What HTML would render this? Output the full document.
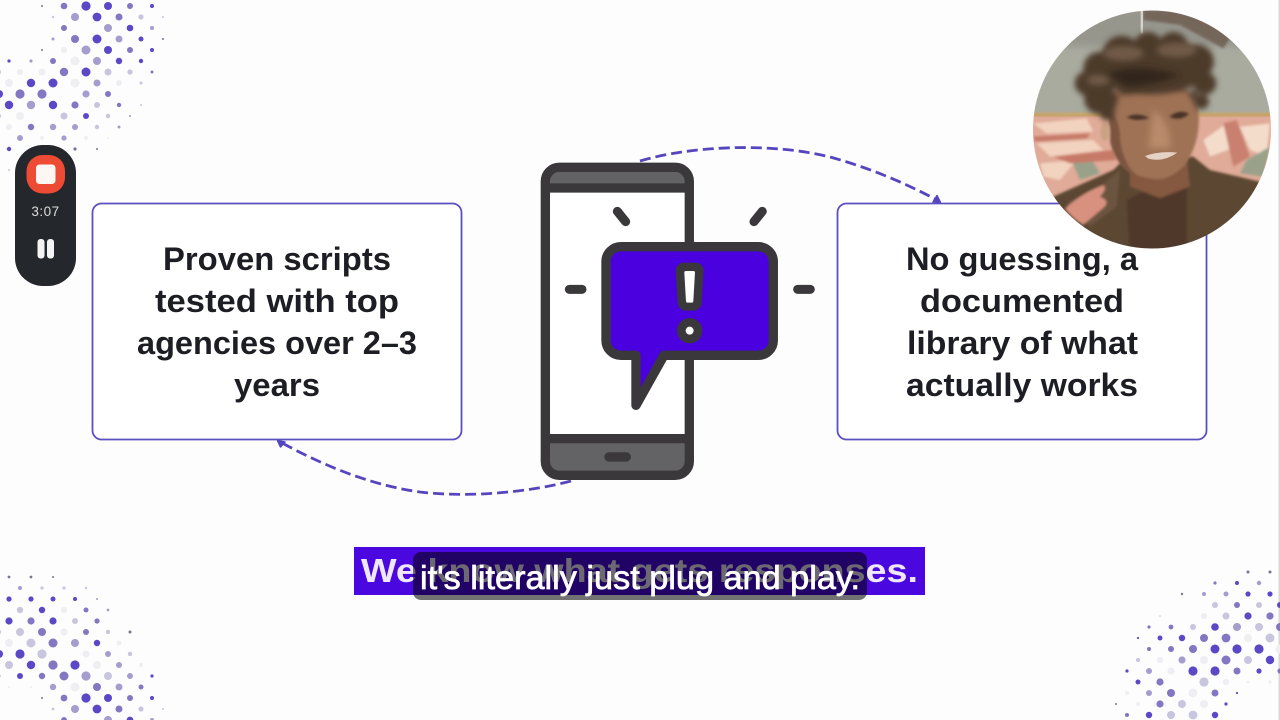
<!DOCTYPE html>
<html><head><meta charset="utf-8"><style>
html,body{margin:0;padding:0;background:#fdfdfd;width:1280px;height:720px;overflow:hidden}
svg{display:block}
.d{fill:#5a48c6}.m{fill:#8376c2}.l{fill:#a49dce}.p{fill:#c8c5de}.f{fill:#eeeef3}.g{fill:#77768f}
.t{font-family:"Liberation Sans",sans-serif;font-weight:700;font-size:32px;fill:#1d1d24;text-anchor:start}
</style></head><body>
<svg width="1280" height="720" viewBox="0 0 1280 720" xmlns="http://www.w3.org/2000/svg">
<defs>
<clipPath id="cp"><circle cx="1152" cy="129.5" r="119"/></clipPath>
<filter id="b1" x="-30%" y="-30%" width="160%" height="160%"><feGaussianBlur stdDeviation="10"/></filter>
<filter id="b2" x="-20%" y="-20%" width="140%" height="140%"><feGaussianBlur stdDeviation="4"/></filter>
<filter id="b4" x="-20%" y="-20%" width="140%" height="140%"><feGaussianBlur stdDeviation="9"/></filter>
<filter id="b0" x="-5%" y="-5%" width="110%" height="110%"><feGaussianBlur stdDeviation="1"/></filter>
<filter id="b3" x="-5%" y="-5%" width="110%" height="110%"><feGaussianBlur stdDeviation="0.35"/></filter>
</defs>
<rect width="1280" height="720" fill="#fdfdfd"/>
<rect x="1278.5" width="1.5" height="720" fill="#d8d8d8"/>

<!-- top-left dots -->
<g>
<circle cx="42" cy="6" r="1" class="g"/><circle cx="64" cy="6" r="3.3" class="m"/><circle cx="86" cy="6" r="4.6" class="d"/><circle cx="108" cy="6" r="4" class="d"/><circle cx="130" cy="6" r="3" class="m"/><circle cx="152" cy="6" r="2" class="d"/>
<circle cx="53" cy="17" r="1.2" class="p"/><circle cx="75" cy="17" r="4" class="l"/><circle cx="97" cy="17" r="4.4" class="d"/><circle cx="119" cy="17" r="3.5" class="m"/><circle cx="141" cy="17" r="2.6" class="p"/><circle cx="163" cy="17" r="1" class="p"/>
<circle cx="64" cy="28" r="3" class="m"/><circle cx="108" cy="28" r="4" class="l"/><circle cx="130" cy="28" r="3.3" class="d"/><circle cx="152" cy="28" r="2" class="l"/>
<circle cx="53" cy="39" r="1.5" class="l"/><circle cx="75" cy="39" r="4" class="m"/><circle cx="97" cy="39" r="4.5" class="d"/><circle cx="119" cy="39" r="3.5" class="l"/><circle cx="141" cy="39" r="2.5" class="d"/><circle cx="163" cy="39" r="1" class="g"/>
<circle cx="42" cy="50" r="1" class="g"/><circle cx="64" cy="50" r="3" class="f"/><circle cx="86" cy="50" r="4.5" class="l"/><circle cx="108" cy="50" r="4" class="d"/><circle cx="130" cy="50" r="3" class="m"/><circle cx="152" cy="50" r="2" class="d"/>
<circle cx="9" cy="61" r="1.6" class="d"/><circle cx="31" cy="61" r="1.6" class="l"/><circle cx="53" cy="61" r="3" class="m"/><circle cx="75" cy="61" r="4.5" class="f"/><circle cx="97" cy="61" r="4" class="l"/><circle cx="119" cy="61" r="3.2" class="d"/><circle cx="141" cy="61" r="2.2" class="d"/>
<circle cx="-2" cy="72" r="3" class="p"/><circle cx="20" cy="72" r="3" class="f"/><circle cx="42" cy="72" r="3.5" class="f"/><circle cx="64" cy="72" r="4.2" class="m"/><circle cx="86" cy="72" r="4.5" class="d"/><circle cx="108" cy="72" r="3.5" class="p"/><circle cx="130" cy="72" r="2.6" class="p"/><circle cx="152" cy="72" r="1.5" class="m"/>
<circle cx="9" cy="83" r="4" class="f"/><circle cx="31" cy="83" r="4.2" class="d"/><circle cx="53" cy="83" r="4.5" class="d"/><circle cx="75" cy="83" r="4.5" class="f"/><circle cx="97" cy="83" r="3.5" class="l"/><circle cx="119" cy="83" r="3" class="f"/><circle cx="141" cy="83" r="1.5" class="p"/>
<circle cx="-1" cy="94" r="4" class="d"/><circle cx="20" cy="94" r="4.6" class="m"/><circle cx="42" cy="94" r="4.6" class="m"/><circle cx="86" cy="94" r="3.6" class="l"/><circle cx="108" cy="94" r="3" class="m"/>
<circle cx="9" cy="105" r="4.2" class="d"/><circle cx="31" cy="105" r="4.2" class="l"/><circle cx="53" cy="105" r="4.2" class="d"/><circle cx="75" cy="105" r="3.6" class="m"/><circle cx="97" cy="105" r="3" class="p"/><circle cx="119" cy="105" r="2.2" class="m"/><circle cx="141" cy="105" r="1" class="p"/>
<circle cx="-2" cy="116" r="3" class="p"/><circle cx="20" cy="116" r="4" class="f"/><circle cx="64" cy="116" r="3.5" class="p"/><circle cx="86" cy="116" r="3" class="d"/><circle cx="108" cy="116" r="2.2" class="p"/><circle cx="130" cy="116" r="1" class="l"/>
<circle cx="9" cy="127" r="3" class="f"/><circle cx="31" cy="127" r="3.2" class="m"/><circle cx="53" cy="127" r="3.2" class="l"/><circle cx="75" cy="127" r="3" class="l"/><circle cx="97" cy="127" r="2.2" class="p"/><circle cx="119" cy="127" r="1.5" class="l"/>
<circle cx="20" cy="138" r="3" class="l"/><circle cx="42" cy="138" r="2" class="f"/><circle cx="64" cy="138" r="2.6" class="l"/><circle cx="86" cy="138" r="2" class="f"/><circle cx="108" cy="138" r="1" class="f"/>
<circle cx="9" cy="149" r="2.2" class="d"/><circle cx="75" cy="149" r="1.6" class="g"/><circle cx="97" cy="149" r="1" class="g"/><circle cx="9" cy="170" r="1" class="p"/>
</g>

<!-- bottom-left dots -->
<g>
<circle cx="9" cy="577" r="1.4" class="g"/><circle cx="31" cy="577" r="1.4" class="g"/><circle cx="53" cy="577" r="1" class="g"/>
<circle cx="20" cy="588" r="2" class="l"/><circle cx="42" cy="588" r="1.6" class="p"/><circle cx="64" cy="588" r="1.6" class="p"/><circle cx="86" cy="588" r="1.2" class="p"/>
<circle cx="9" cy="599" r="2.6" class="d"/><circle cx="31" cy="599" r="2.6" class="d"/><circle cx="53" cy="599" r="2.5" class="d"/><circle cx="75" cy="599" r="2" class="d"/><circle cx="97" cy="599" r="1" class="l"/>
<circle cx="-2" cy="610" r="2" class="p"/><circle cx="20" cy="610" r="3.2" class="p"/><circle cx="42" cy="610" r="3.2" class="d"/><circle cx="64" cy="610" r="3" class="f"/><circle cx="86" cy="610" r="2.5" class="m"/><circle cx="108" cy="610" r="1.4" class="l"/>
<circle cx="9" cy="621" r="3.6" class="d"/><circle cx="31" cy="621" r="3.6" class="m"/><circle cx="53" cy="621" r="3.6" class="d"/><circle cx="75" cy="621" r="3" class="p"/><circle cx="97" cy="621" r="2.6" class="m"/>
<circle cx="-2" cy="632" r="3" class="p"/><circle cx="20" cy="632" r="4" class="p"/><circle cx="42" cy="632" r="4" class="m"/><circle cx="64" cy="632" r="3.5" class="f"/><circle cx="86" cy="632" r="3" class="m"/><circle cx="108" cy="632" r="2.2" class="p"/><circle cx="130" cy="632" r="1.5" class="g"/>
<circle cx="9" cy="643" r="4" class="f"/><circle cx="31" cy="643" r="4.5" class="p"/><circle cx="53" cy="643" r="4.5" class="m"/><circle cx="75" cy="643" r="4" class="l"/><circle cx="97" cy="643" r="3.2" class="d"/><circle cx="119" cy="643" r="2.4" class="f"/>
<circle cx="-1" cy="654" r="4" class="d"/><circle cx="20" cy="654" r="4.6" class="d"/><circle cx="42" cy="654" r="4.6" class="p"/><circle cx="86" cy="654" r="3.6" class="f"/><circle cx="108" cy="654" r="3" class="l"/><circle cx="130" cy="654" r="2.2" class="p"/>
<circle cx="9" cy="665" r="4" class="p"/><circle cx="31" cy="665" r="4.2" class="d"/><circle cx="53" cy="665" r="4.6" class="m"/><circle cx="75" cy="665" r="4.6" class="d"/><circle cx="97" cy="665" r="4" class="f"/><circle cx="119" cy="665" r="3" class="l"/><circle cx="141" cy="665" r="2" class="f"/>
<circle cx="-2" cy="676" r="2.4" class="m"/><circle cx="20" cy="676" r="3" class="d"/><circle cx="42" cy="676" r="3.2" class="m"/><circle cx="64" cy="676" r="4.5" class="m"/><circle cx="86" cy="676" r="4.6" class="l"/><circle cx="108" cy="676" r="4" class="p"/><circle cx="130" cy="676" r="3" class="l"/><circle cx="152" cy="676" r="1.6" class="d"/>
<circle cx="9" cy="687" r="1.2" class="f"/><circle cx="31" cy="687" r="1" class="f"/><circle cx="53" cy="687" r="3.2" class="l"/><circle cx="75" cy="687" r="4.5" class="f"/><circle cx="97" cy="687" r="4" class="m"/><circle cx="119" cy="687" r="3.5" class="l"/><circle cx="141" cy="687" r="2.5" class="m"/>
<circle cx="42" cy="698" r="1" class="g"/><circle cx="64" cy="698" r="3.4" class="m"/><circle cx="86" cy="698" r="4.6" class="d"/><circle cx="108" cy="698" r="4" class="d"/><circle cx="130" cy="698" r="3" class="m"/><circle cx="152" cy="698" r="2" class="d"/>
<circle cx="53" cy="709" r="1.4" class="p"/><circle cx="75" cy="709" r="4" class="l"/><circle cx="97" cy="709" r="4.4" class="d"/><circle cx="119" cy="709" r="3.5" class="m"/><circle cx="141" cy="709" r="2.6" class="p"/><circle cx="163" cy="709" r="1" class="p"/>
<circle cx="64" cy="720" r="3" class="m"/><circle cx="108" cy="720" r="4" class="l"/><circle cx="130" cy="720" r="3.4" class="d"/><circle cx="152" cy="720" r="2" class="l"/>
</g>

<!-- bottom-right dots -->
<g>
<circle cx="1248" cy="572" r="1.5" class="g"/><circle cx="1270" cy="572" r="1.5" class="g"/>
<circle cx="1215" cy="583" r="1.6" class="m"/><circle cx="1237" cy="583" r="2" class="d"/><circle cx="1259" cy="583" r="2.2" class="l"/>
<circle cx="1182" cy="594" r="1.2" class="g"/><circle cx="1204" cy="594" r="2" class="l"/><circle cx="1226" cy="594" r="2.5" class="l"/><circle cx="1248" cy="594" r="2.6" class="d"/><circle cx="1270" cy="594" r="2.6" class="d"/>
<circle cx="1215" cy="605" r="3" class="p"/><circle cx="1237" cy="605" r="3" class="m"/><circle cx="1259" cy="605" r="3" class="p"/><circle cx="1280" cy="605" r="3" class="d"/>
<circle cx="1160" cy="616" r="0.8" class="p"/><circle cx="1204" cy="616" r="3" class="f"/><circle cx="1226" cy="616" r="3.5" class="p"/><circle cx="1248" cy="616" r="3.6" class="d"/><circle cx="1270" cy="616" r="3.6" class="m"/>
<circle cx="1149" cy="627" r="1.6" class="m"/><circle cx="1171" cy="627" r="2.4" class="m"/><circle cx="1193" cy="627" r="3" class="p"/><circle cx="1215" cy="627" r="3.8" class="d"/><circle cx="1237" cy="627" r="4" class="l"/><circle cx="1259" cy="627" r="4" class="p"/><circle cx="1280" cy="627" r="4" class="m"/>
<circle cx="1138" cy="638" r="1.1" class="d"/><circle cx="1160" cy="638" r="2.5" class="d"/><circle cx="1182" cy="638" r="3.2" class="d"/><circle cx="1204" cy="638" r="4" class="m"/><circle cx="1226" cy="638" r="4.4" class="m"/><circle cx="1248" cy="638" r="4" class="f"/><circle cx="1270" cy="638" r="4.5" class="p"/>
<circle cx="1149" cy="649" r="2" class="m"/><circle cx="1171" cy="649" r="3" class="m"/><circle cx="1193" cy="649" r="4" class="m"/><circle cx="1215" cy="649" r="4.5" class="d"/><circle cx="1237" cy="649" r="4.6" class="d"/><circle cx="1259" cy="649" r="4.6" class="d"/><circle cx="1280" cy="649" r="4.5" class="f"/>
<circle cx="1138" cy="660" r="2" class="p"/><circle cx="1160" cy="660" r="3" class="f"/><circle cx="1182" cy="660" r="3.6" class="l"/><circle cx="1204" cy="660" r="4" class="f"/><circle cx="1226" cy="660" r="4.5" class="m"/><circle cx="1248" cy="660" r="4" class="p"/><circle cx="1270" cy="660" r="4.2" class="d"/>
<circle cx="1127" cy="671" r="1.6" class="d"/><circle cx="1149" cy="671" r="3" class="l"/><circle cx="1171" cy="671" r="3.5" class="f"/><circle cx="1193" cy="671" r="4.6" class="d"/><circle cx="1215" cy="671" r="4.6" class="d"/><circle cx="1237" cy="671" r="3.5" class="m"/><circle cx="1259" cy="671" r="2.6" class="d"/><circle cx="1280" cy="671" r="2.6" class="m"/>
<circle cx="1138" cy="682" r="2.5" class="d"/><circle cx="1160" cy="682" r="3.6" class="m"/><circle cx="1204" cy="682" r="4.6" class="p"/><circle cx="1226" cy="682" r="3.2" class="f"/><circle cx="1248" cy="682" r="1.2" class="f"/><circle cx="1270" cy="682" r="1.6" class="f"/>
<circle cx="1127" cy="693" r="2" class="f"/><circle cx="1149" cy="693" r="3" class="l"/><circle cx="1171" cy="693" r="4" class="m"/><circle cx="1193" cy="693" r="4.5" class="f"/><circle cx="1215" cy="693" r="3.5" class="m"/><circle cx="1237" cy="693" r="1.1" class="d"/>
<circle cx="1116" cy="704" r="1" class="g"/><circle cx="1138" cy="704" r="2" class="f"/><circle cx="1160" cy="704" r="3.6" class="m"/><circle cx="1182" cy="704" r="4" class="p"/><circle cx="1204" cy="704" r="4" class="f"/><circle cx="1226" cy="704" r="1.6" class="d"/>
<circle cx="1127" cy="715" r="2" class="m"/><circle cx="1149" cy="715" r="3.2" class="d"/><circle cx="1171" cy="715" r="4" class="p"/><circle cx="1193" cy="715" r="4.4" class="p"/><circle cx="1215" cy="715" r="3.2" class="d"/>
</g>

<!-- boxes -->
<rect x="92.5" y="203.5" width="369" height="236" rx="9" fill="#fff" stroke="#5b50c2" stroke-width="1.8"/>
<rect x="837.5" y="203.5" width="369" height="236" rx="9" fill="#fff" stroke="#5b50c2" stroke-width="1.8"/>

<text class="t" x="163" y="270" textLength="228" lengthAdjust="spacingAndGlyphs">Proven scripts</text>
<text class="t" x="155" y="312" textLength="244" lengthAdjust="spacingAndGlyphs">tested with top</text>
<text class="t" x="137" y="354" textLength="280" lengthAdjust="spacingAndGlyphs">agencies over 2–3</text>
<text class="t" x="234" y="396" textLength="86" lengthAdjust="spacingAndGlyphs">years</text>
<text class="t" x="906" y="270" textLength="232" lengthAdjust="spacingAndGlyphs">No guessing, a</text>
<text class="t" x="920" y="312" textLength="204" lengthAdjust="spacingAndGlyphs">documented</text>
<text class="t" x="907" y="354" textLength="231" lengthAdjust="spacingAndGlyphs">library of what</text>
<text class="t" x="906" y="396" textLength="232" lengthAdjust="spacingAndGlyphs">actually works</text>

<!-- arrows -->
<g fill="none" stroke="#5546bf" stroke-width="2.8">
<path d="M640 161 C690 146 770 142 830 157 C870 168 905 183 937 200" stroke-dasharray="11 5"/>
<path d="M571 481 C530 492 470 498 420 492 C370 485 325 466 282 443" stroke-dasharray="11 5"/>
<path d="M937 195.5 L940.5 202.5 L933 202 Z" fill="#5546bf" stroke-linejoin="round" stroke-width="1.5"/>
<path d="M280.5 447 L277.5 440.5 L285 442 Z" fill="#5546bf" stroke-linejoin="round" stroke-width="1.5"/>
</g>

<!-- phone + bubble -->
<g transform="translate(520 140) scale(.3333)" filter="url(#b3)">
<rect x="76" y="82" width="432" height="924" rx="42" fill="#fff"/>
<path d="M76 144 V124 a42 42 0 0 1 42 -42 H466 a42 42 0 0 1 42 42 V144 Z" fill="#646466"/>
<path d="M76 896 H508 V964 a42 42 0 0 1 -42 42 H118 a42 42 0 0 1 -42 -42 Z" fill="#646466"/>
<rect x="76" y="82" width="432" height="924" rx="42" fill="none" stroke="#3a393b" stroke-width="28"/>
<path d="M76 144 H508 M76 896 H508" stroke="#3a393b" stroke-width="28"/>
<path d="M267 951 H319" stroke="#3a393b" stroke-width="28" stroke-linecap="round"/>
<g stroke="#3a393b" stroke-width="27" stroke-linecap="round" fill="none">
<path d="M292 214 L317 245 M727 214 L702 245 M148 448 H186 M833 448 H871"/>
</g>
<path d="M303 320 H715 a45 45 0 0 1 45 45 V601 a45 45 0 0 1 -45 45 H432 L348 796 V646 H303 a45 45 0 0 1 -45 -45 V365 a45 45 0 0 1 45 -45 Z" fill="#4c00e0" stroke="#3a393b" stroke-width="28" stroke-linejoin="round"/>
<path d="M492 393 H526 L520 487 H498 Z" fill="#3a393b" stroke="#3a393b" stroke-width="50" stroke-linejoin="round"/>
<path d="M498 398 H520 L515 483 H503 Z" fill="#fff" stroke="#fff" stroke-width="10" stroke-linejoin="round"/>
<circle cx="509" cy="572" r="38" fill="#3a393b"/>
<circle cx="509" cy="572" r="12" fill="#fff"/>
</g>

<!-- webcam -->
<g clip-path="url(#cp)">
<g transform="translate(1020 0) scale(.3333)">
<g filter="url(#b0)">
<rect x="20" y="10" width="750" height="760" fill="#a9ab9f"/>
<rect x="30" y="20" width="730" height="120" fill="#96968d" filter="url(#b1)"/>
<path d="M370 30 H560 L630 115 L610 145 L480 75 L370 60 Z" fill="#75665a" filter="url(#b2)"/>
<rect x="362" y="30" width="7" height="70" fill="#d5d5cc"/>
<rect x="30" y="338" width="730" height="16" fill="#c9a468" filter="url(#b2)"/>
<rect x="20" y="350" width="750" height="270" fill="#e0ab98"/>
<g filter="url(#b2)">
<path d="M40 370 L200 355 L220 395 L80 400 Z M50 430 L220 420 L250 450 L90 470 Z M60 490 L170 480 L120 540 L70 530 Z" fill="#f1d3bf"/>
<path d="M550 420 L620 370 L650 440 L570 470 Z M660 380 L750 370 L740 470 L690 450 Z" fill="#f4dccb"/>
<path d="M610 370 L650 360 L690 470 L640 500 Z" fill="#c9806e"/>
<path d="M150 470 L210 470 L240 520 L180 540 Z M680 480 L750 440 L730 530 L660 520 Z" fill="#9aa18a"/>
<path d="M40 410 L210 400 L200 415 L45 425 Z M100 470 L280 450 L290 480 L150 490 Z" fill="#c77968"/>
</g>
<!-- jacket -->
<path d="M100 590 L280 510 L310 480 L520 470 L570 510 L720 545 L760 770 L130 770 Z" fill="#5c4632" filter="url(#b2)"/>
<path d="M320 600 L400 560 L500 560 L500 770 L330 770 Z" fill="#50392a" filter="url(#b2)"/>
<path d="M210 680 L290 620 L300 510 L240 560 L140 610 Z" fill="#6c5540" filter="url(#b2)"/>
<!-- neck & face -->
<path d="M330 480 L500 470 L510 560 L420 595 L330 560 Z" fill="#85593f" filter="url(#b2)"/>
<path d="M268 300 Q280 240 395 245 Q520 240 535 330 Q545 420 495 495 Q440 550 390 535 Q305 525 278 440 Q262 380 268 300 Z" fill="#9f7255" filter="url(#b2)"/>
<path d="M268 340 Q300 350 300 420 Q310 490 350 530 Q290 500 272 430 Z" fill="#7b5440" filter="url(#b2)"/>
<path d="M400 330 Q455 370 450 445 L385 445 Z" fill="#b98b6c" filter="url(#b1)"/>
<ellipse cx="256" cy="395" rx="14" ry="28" fill="#c9a283" filter="url(#b2)"/>
<path d="M320 352 Q350 335 388 354 Q350 366 320 352 M448 350 Q480 325 507 342 Q480 366 448 350 Z" fill="#4a3226" filter="url(#b2)"/>
<path d="M375 468 Q420 452 472 458 Q430 488 385 476 Z" fill="#e4d2c4" filter="url(#b0)"/>
<!-- hair -->
<g fill="#4e3b2c" filter="url(#b4)">
<circle cx="200" cy="250" r="36"/><circle cx="240" cy="205" r="50"/><circle cx="305" cy="165" r="58"/><circle cx="385" cy="140" r="44"/><circle cx="460" cy="140" r="44"/><circle cx="530" cy="185" r="52"/><circle cx="555" cy="250" r="34"/><circle cx="545" cy="305" r="22"/><circle cx="240" cy="295" r="48"/><circle cx="262" cy="340" r="22"/><ellipse cx="390" cy="215" rx="170" ry="68"/>
<path d="M235 290 L530 270 L535 335 L505 275 L300 275 L275 360 Z"/>
</g>
<g fill="#6f5a46" filter="url(#b4)">
<ellipse cx="310" cy="160" rx="60" ry="22"/><ellipse cx="470" cy="150" rx="60" ry="22"/><ellipse cx="235" cy="240" rx="35" ry="15"/>
</g>
<path d="M260 220 Q350 185 480 225 Q420 255 320 262 Z" fill="#33261e" filter="url(#b1)"/>
<!-- hand -->
<path d="M135 625 Q190 575 250 555 Q265 565 240 590 Q270 600 255 620 Q220 650 190 675 Q150 650 135 625 Z" fill="#d9917f" filter="url(#b2)"/>
</g>
</g>
</g>

<!-- recorder -->
<rect x="15" y="145" width="61" height="141" rx="28" fill="#24272b"/>
<rect x="26.5" y="155" width="38.5" height="38.5" rx="16" fill="#ee4b34"/>
<rect x="36" y="164.5" width="19.5" height="19.5" rx="3.5" fill="#fdf6f3"/>
<text x="45.5" y="216" text-anchor="middle" font-family="'Liberation Sans',sans-serif" font-size="13.5" fill="#dcdcdc" letter-spacing=".5">3:07</text>
<rect x="37.5" y="239" width="7" height="19.5" rx="3" fill="#f4f4f4"/>
<rect x="47" y="239" width="7" height="19.5" rx="3" fill="#f4f4f4"/>

<!-- caption -->
<rect x="354" y="547" width="571" height="48" fill="#4b07e0"/>
<text x="361" y="582" font-family="'Liberation Sans',sans-serif" font-weight="700" font-size="33" fill="#efe8fd" textLength="557" lengthAdjust="spacingAndGlyphs" filter="url(#b3)">We know what gets responses.</text>
<rect x="413" y="552" width="454" height="48" rx="8" fill="#000" fill-opacity=".55"/>
<text x="420" y="589" font-family="'Liberation Sans',sans-serif" font-size="33" fill="#fff" stroke="#fff" stroke-width=".7" textLength="440" lengthAdjust="spacingAndGlyphs">it's literally just plug and play.</text>
</svg>
</body></html>
